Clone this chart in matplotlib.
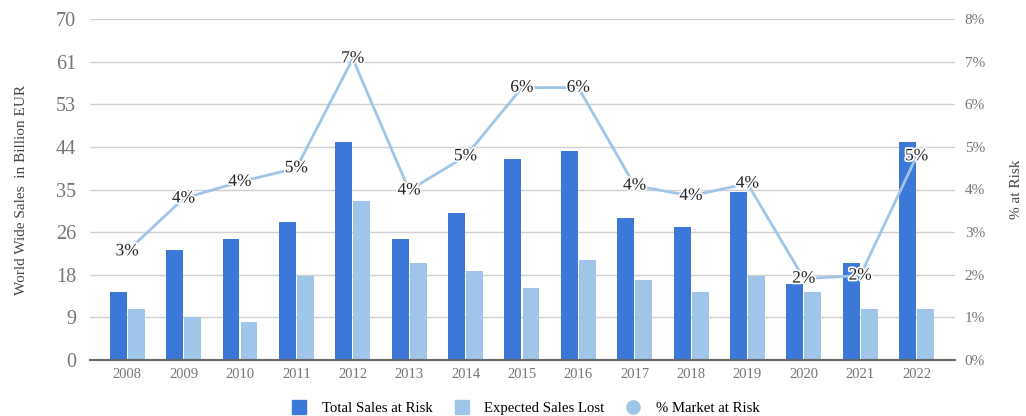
import numpy as np
import matplotlib.pyplot as plt
import matplotlib.patheffects as pe
from matplotlib.lines import Line2D
from matplotlib.ticker import FixedLocator, FuncFormatter

plt.rcParams['font.family'] = ['Liberation Serif', 'DejaVu Serif']

# Data
years = ['2008', '2009', '2010', '2011', '2012', '2013', '2014', '2015',
         '2016', '2017', '2018', '2019', '2020', '2021', '2022']
total_sales = [13.9, 22.5, 24.9, 28.4, 44.7, 24.9, 30.2, 41.2,
               43.0, 29.2, 27.4, 34.4, 15.7, 19.9, 44.7]
expected_lost = [10.4, 8.75, 7.9, 17.2, 32.7, 19.9, 18.2, 14.7,
                 20.6, 16.4, 13.9, 17.2, 13.9, 10.4, 10.4]
pct_risk = [2.55, 3.79, 4.18, 4.5, 7.07, 3.98, 4.78, 6.39,
            6.39, 4.09, 3.85, 4.14, 1.91, 1.98, 4.78]

dark = '#3c78d8'
light = '#9fc5e8'
grey = '#757575'

fig = plt.figure(figsize=(10.26, 4.16), dpi=100)
ax = fig.add_axes([90 / 1026, 56 / 416, 865 / 1026, 341 / 416])
ax2 = ax.twinx()

x = np.arange(len(years))
w = 0.3
ax.bar(x - w / 2 - 0.01, total_sales, width=w, color=dark, zorder=2)
ax.bar(x + w / 2 + 0.01, expected_lost, width=w, color=light, zorder=2)

ax.set_xlim(-0.66, len(years) - 1 + 0.68)
ax.set_ylim(0, 70)
ticks = np.arange(0, 70.01, 8.75)
ax.yaxis.set_major_locator(FixedLocator(ticks))
ax.yaxis.set_major_formatter(FuncFormatter(lambda v, p: str(int(np.floor(v + 0.5)))))
ax.grid(axis='y', color='#d0d0d0', linewidth=1, zorder=0)
ax.set_axisbelow(True)
for s in ['top', 'right', 'left']:
    ax.spines[s].set_visible(False)
ax.spines['bottom'].set_color('#666666')
ax.spines['bottom'].set_linewidth(1.5)
ax.set_xticks(x)
ax.set_xticklabels(years)
ax.tick_params(axis='x', length=0, colors=grey, labelsize=10.5, pad=6)
ax.tick_params(axis='y', length=0, colors=grey, labelsize=14.5, pad=10)
ax.set_ylabel('World Wide Sales  in Billion EUR', fontsize=11, color='#444444', labelpad=20)

ax2.plot(x, pct_risk, color=light, linewidth=2, zorder=3)
ax2.set_ylim(0, 8)
ax2.set_yticks(np.arange(0, 9, 1))
ax2.yaxis.set_major_formatter(FuncFormatter(lambda v, p: f'{int(v)}%'))
ax2.tick_params(axis='y', length=0, colors=grey, labelsize=11, pad=7)
for s in ['top', 'right', 'left', 'bottom']:
    ax2.spines[s].set_visible(False)
ax2.set_ylabel('% at Risk', fontsize=11, color='#444444', labelpad=18)

for xi, p in zip(x, pct_risk):
    ax2.text(xi, p, f'{int(np.floor(p + 0.5))}%', ha='center', va='center',
             fontsize=12.5, color='#222222', zorder=4,
             path_effects=[pe.withStroke(linewidth=2.5, foreground='white')])

handles = [
    Line2D([], [], marker='s', linestyle='none', markersize=9.5, color=dark),
    Line2D([], [], marker='s', linestyle='none', markersize=9.5, color=light),
    Line2D([], [], marker='o', linestyle='none', markersize=9.5, color=light),
]
fig.legend(handles, ['Total Sales at Risk', 'Expected Sales Lost', '% Market at Risk'],
           loc='lower center', bbox_to_anchor=(522 / 1026, -0.03), ncol=3, frameon=False,
           fontsize=10.6, handletextpad=0.5, columnspacing=1.0)

fig.savefig('out.png', dpi=100)
